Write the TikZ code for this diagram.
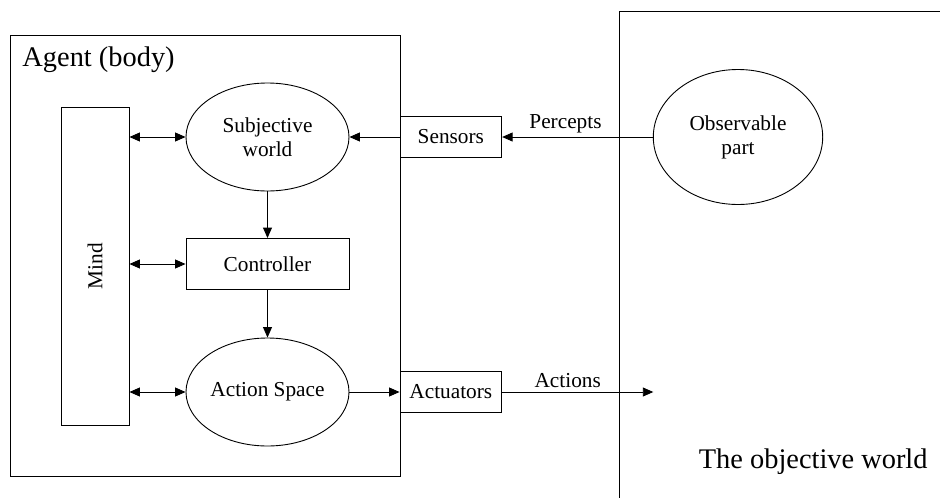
\documentclass[tikz,border=0pt]{standalone}
\usepackage{fontspec}
\setmainfont{Liberation Serif}
\usetikzlibrary{arrows.meta,shapes.geometric}
\begin{document}
\begin{tikzpicture}[x=1pt,y=-1pt, line width=0.9pt,
  box/.style={draw, rectangle, inner sep=0pt},
  oval/.style={draw, ellipse, inner sep=0pt, minimum width=163pt, minimum height=108pt, align=center},
  lbl/.style={font=\fontsize{21.3}{24}\selectfont},
  big/.style={font=\fontsize{28.4}{32}\selectfont},
  arr/.style={-{Triangle[length=10.5pt,width=9pt]}},
  darr/.style={{Triangle[length=10.5pt,width=9pt]}-{Triangle[length=10.5pt,width=9pt]}}]
\useasboundingbox (0,0) rectangle (940,498);
% agent box
\node[box, minimum width=389.7pt, minimum height=441.7pt] (agent) at (205.15,255.85) {};
\node[big, anchor=west, inner sep=0pt] (agentlabel) at (22,60) {Agent (body)};
% objective world
\draw (619.3,498) -- (619.3,11) -- (940,11);
\node[big, anchor=east, inner sep=0pt] (objlabel) at (928,462) {The objective world};
% mind
\node[box, minimum width=68pt, minimum height=318pt] (mind) at (95,266) {};
\node[lbl, rotate=90, inner sep=0pt] (mindlabel) at (mind.center) {Mind};
% inner nodes
\node[oval, lbl] (subj) at (267.5,137) {Subjective\\world};
\node[box, lbl, minimum width=163pt, minimum height=51pt] (ctrl) at (267.5,264) {Controller};
\node[oval, lbl] (act) at (267.5,392) {Action Space};
\node[box, lbl, minimum width=101.7pt, minimum height=40.3pt] (sens) at (450.85,137) {Sensors};
\node[box, lbl, minimum width=101.7pt, minimum height=41.3pt] (actu) at (450.85,392) {Actuators};
\node[oval, lbl, minimum width=169.4pt, minimum height=135pt] (obs) at (738,137) {Observable\\part};
\coordinate (actend) at (653.3,392);
% connectors
\draw[darr] (mind.east |- subj.west) -- (subj.west);
\draw[darr] (mind.east |- ctrl.west) -- (ctrl.west);
\draw[darr] (mind.east |- act.west) -- (act.west);
\draw[arr] (subj.south) -- (ctrl.north);
\draw[arr] (ctrl.south) -- (act.north);
\draw[arr] (sens.west) -- (subj.east);
\draw[arr] (obs.west) -- node[lbl, above, inner sep=4pt, xshift=-12pt] {Percepts} (sens.east);
\draw[arr] (act.east) -- (actu.west);
\draw[arr] (actu.east) -- node[lbl, above, inner sep=4pt, xshift=-10pt] {Actions} (actend);
\end{tikzpicture}
\end{document}
